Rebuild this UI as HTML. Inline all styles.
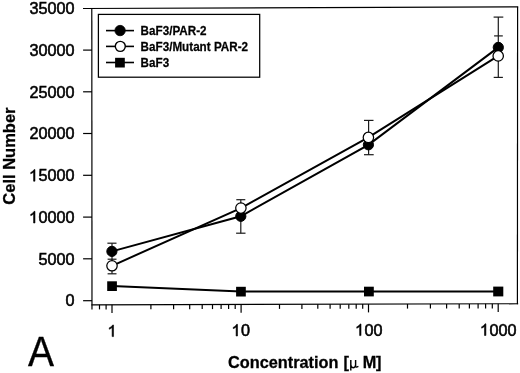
<!DOCTYPE html>
<html><head><meta charset="utf-8"><style>
html,body{margin:0;padding:0;background:#fff;width:520px;height:373px;overflow:hidden}
svg{display:block;filter:grayscale(1) blur(0.3px)}
text{font-family:"Liberation Sans",sans-serif;fill:#000}
</style></head><body>
<svg width="520" height="373" viewBox="0 0 520 373">
<g stroke="#000" stroke-width="1.2" fill="none">
<!-- frame -->
<line x1="83" y1="8.5" x2="518.2" y2="6.8"/>
<line x1="517.6" y1="6.8" x2="517.4" y2="304.2"/>
<line x1="91.8" y1="8.3" x2="92.0" y2="309.5"/>
<line x1="91.4" y1="304.8" x2="518.2" y2="303.75"/>
<!-- y ticks -->
<line x1="83.1" y1="50.1" x2="92" y2="50.1"/>
<line x1="83.1" y1="91.8" x2="92" y2="91.8"/>
<line x1="83.1" y1="133.5" x2="92" y2="133.5"/>
<line x1="83.1" y1="175.3" x2="92" y2="175.3"/>
<line x1="83.1" y1="217.1" x2="92" y2="217.1"/>
<line x1="83.1" y1="258.8" x2="92" y2="258.8"/>
<line x1="83.1" y1="300.7" x2="92" y2="300.7"/>
</g>
<g id="xt" stroke="#000" stroke-width="1.2"><line x1="99.5" y1="304.8" x2="99.5" y2="309.4"/><line x1="106.1" y1="304.8" x2="106.1" y2="309.4"/><line x1="112.0" y1="304.8" x2="112.0" y2="313.1"/><line x1="150.9" y1="304.7" x2="150.9" y2="309.3"/><line x1="173.6" y1="304.6" x2="173.6" y2="309.2"/><line x1="189.7" y1="304.6" x2="189.7" y2="309.2"/><line x1="202.2" y1="304.5" x2="202.2" y2="309.1"/><line x1="212.5" y1="304.5" x2="212.5" y2="309.1"/><line x1="221.1" y1="304.5" x2="221.1" y2="309.1"/><line x1="228.6" y1="304.5" x2="228.6" y2="309.1"/><line x1="235.2" y1="304.4" x2="235.2" y2="309.0"/><line x1="241.1" y1="304.4" x2="241.1" y2="312.7"/><line x1="279.5" y1="304.3" x2="279.5" y2="308.9"/><line x1="301.9" y1="304.3" x2="301.9" y2="308.9"/><line x1="317.8" y1="304.2" x2="317.8" y2="308.8"/><line x1="330.1" y1="304.2" x2="330.1" y2="308.8"/><line x1="340.2" y1="304.2" x2="340.2" y2="308.8"/><line x1="348.8" y1="304.2" x2="348.8" y2="308.8"/><line x1="356.2" y1="304.1" x2="356.2" y2="308.7"/><line x1="362.7" y1="304.1" x2="362.7" y2="308.7"/><line x1="368.5" y1="304.1" x2="368.5" y2="312.4"/><line x1="407.5" y1="304.0" x2="407.5" y2="308.6"/><line x1="430.4" y1="304.0" x2="430.4" y2="308.6"/><line x1="446.6" y1="303.9" x2="446.6" y2="308.5"/><line x1="459.2" y1="303.9" x2="459.2" y2="308.5"/><line x1="469.4" y1="303.9" x2="469.4" y2="308.5"/><line x1="478.1" y1="303.8" x2="478.1" y2="308.4"/><line x1="485.6" y1="303.8" x2="485.6" y2="308.4"/><line x1="492.3" y1="303.8" x2="492.3" y2="308.4"/><line x1="498.2" y1="303.8" x2="498.2" y2="312.1"/></g>
<!-- legend -->
<rect x="98.4" y="14.4" width="161.3" height="62.8" fill="none" stroke="#000" stroke-width="1.25"/>
<g stroke="#000" stroke-width="1.6">
<line x1="106" y1="30.6" x2="134" y2="30.6"/>
<line x1="106" y1="46.4" x2="134" y2="46.4"/>
<line x1="106" y1="62.5" x2="134" y2="62.5"/>
</g>
<circle cx="120.1" cy="30.55" r="5.2" fill="#000" stroke="#000" stroke-width="0.8"/>
<circle cx="120.3" cy="46.35" r="5.0" fill="#fff" stroke="#000" stroke-width="1.4"/>
<rect x="115.1" y="57.8" width="9.7" height="9.7" fill="#000"/>
<g font-weight="bold" font-size="12.3" stroke="#000" stroke-width="0.25">
<text transform="translate(140.6,35.1) scale(0.95,1)">BaF3/PAR-2</text>
<text transform="translate(140.6,50.9) scale(0.95,1)">BaF3/Mutant PAR-2</text>
<text transform="translate(140.6,66.9) scale(0.95,1)">BaF3</text>
</g>
<!-- y labels -->
<g font-size="16.2" stroke="#000" stroke-width="0.55">
<text x="29.45" y="13.9">35000</text>
<text x="29.45" y="55.8">30000</text>
<text x="29.45" y="97.6">25000</text>
<text x="29.45" y="139.4">20000</text>
<path transform="translate(28.95,181.20) scale(0.00791,-0.00791)" d="M763 0H583V1147Q518 1085 412.5 1023Q307 961 223 930V1104Q374 1175 487 1276Q600 1377 647 1472H763Z" stroke-width="70"/>
<text x="38.46" y="181.2">5000</text>
<path transform="translate(28.95,223.00) scale(0.00791,-0.00791)" d="M763 0H583V1147Q518 1085 412.5 1023Q307 961 223 930V1104Q374 1175 487 1276Q600 1377 647 1472H763Z" stroke-width="70"/>
<text x="38.46" y="223.0">0000</text>
<text x="38.46" y="264.6">5000</text>
<text x="65.49" y="306.4">0</text>
</g>
<!-- x labels -->
<g font-size="16.2" stroke="#000" stroke-width="0.55">
<path transform="translate(107.50,336.60) scale(0.00791,-0.00791)" d="M763 0H583V1147Q518 1085 412.5 1023Q307 961 223 930V1104Q374 1175 487 1276Q600 1377 647 1472H763Z" stroke-width="70"/>
<path transform="translate(231.49,336.00) scale(0.00791,-0.00791)" d="M763 0H583V1147Q518 1085 412.5 1023Q307 961 223 930V1104Q374 1175 487 1276Q600 1377 647 1472H763Z" stroke-width="70"/>
<text x="241.00" y="336.0">0</text>
<path transform="translate(354.99,335.60) scale(0.00791,-0.00791)" d="M763 0H583V1147Q518 1085 412.5 1023Q307 961 223 930V1104Q374 1175 487 1276Q600 1377 647 1472H763Z" stroke-width="70"/>
<text x="364.50" y="335.6">00</text>
<path transform="translate(479.88,335.50) scale(0.00791,-0.00791)" d="M763 0H583V1147Q518 1085 412.5 1023Q307 961 223 930V1104Q374 1175 487 1276Q600 1377 647 1472H763Z" stroke-width="70"/>
<text x="489.39" y="335.5">000</text>
</g>
<g font-size="16.3" font-weight="bold" stroke="#000" stroke-width="0.3">
<text x="228" y="367.8">Concentration</text>
<text x="343.4" y="367.8">[</text>
<path d="M350.8 360 V370.4 M350.8 364.6 Q350.9 367.7 353.1 367.7 Q355.3 367.7 355.6 365 M355.6 360 V366.4 Q355.8 367.2 356.6 367.1 L358.4 366.3" fill="none" stroke="#000" stroke-width="1.45"/>
<text x="362.7" y="367.8">M</text>
<text x="376.1" y="367.8">]</text>
</g>
<text transform="translate(14.7,204.7) rotate(-90)" font-size="16.5" font-weight="bold" stroke="#000" stroke-width="0.3">Cell Number</text>
<text transform="translate(28.1,365.9) scale(0.915,1)" font-size="42.6" stroke="#000" stroke-width="0.35">A</text>

<!-- data lines -->
<g stroke="#000" stroke-width="2" fill="none">
<polyline points="111.9,251.4 240.8,216.3 368.4,144.8 498.3,47.4"/>
<polyline points="112,265.8 240.9,208.1 368.4,137.4 498.2,55.9"/>
<polyline points="112,286.1 241,291.6 368.9,291.5 498.3,291.5"/>
</g>
<!-- error bars -->
<g stroke="#1a1a1a" stroke-width="1.2">
<line x1="112" y1="243.2" x2="112" y2="259.5"/>
<line x1="107.4" y1="243.2" x2="116.5" y2="243.2"/>
<line x1="107.6" y1="259.2" x2="116.5" y2="259.2"/>
<line x1="112" y1="259" x2="112" y2="273.8"/>
<line x1="107.6" y1="273.8" x2="116.5" y2="273.8"/>

<line x1="240.8" y1="199.7" x2="240.8" y2="233.2"/>
<line x1="236.3" y1="199.7" x2="245.3" y2="199.7"/>
<line x1="236.1" y1="233.2" x2="245.5" y2="233.2"/>

<line x1="368.6" y1="120.4" x2="368.6" y2="154.7"/>
<line x1="364" y1="120.4" x2="373.5" y2="120.4"/>
<line x1="364" y1="154.7" x2="373.7" y2="154.7"/>

<line x1="498.3" y1="17.1" x2="498.3" y2="77.4"/>
<line x1="493.6" y1="17.1" x2="503.3" y2="17.1"/>
<line x1="494.1" y1="35.9" x2="502.8" y2="35.9"/>
<line x1="493.7" y1="77.4" x2="502.9" y2="77.4"/>
</g>
<!-- markers: filled -->
<g fill="#000" stroke="#000" stroke-width="1">
<circle cx="111.9" cy="251.4" r="5.1"/>
<circle cx="240.8" cy="216.3" r="5.1"/>
<circle cx="368.4" cy="144.8" r="5.1"/>
<circle cx="498.3" cy="47.4" r="5.1"/>
</g>
<!-- markers: open -->
<g fill="#fff" stroke="#000" stroke-width="1.25">
<circle cx="112" cy="265.8" r="5.2"/>
<circle cx="240.9" cy="208.1" r="5.2"/>
<circle cx="368.4" cy="137.4" r="5.2"/>
<circle cx="498.2" cy="55.9" r="5.2"/>
</g>
<!-- markers: squares -->
<g fill="#000">
<rect x="107.2" y="281.3" width="9.7" height="9.7"/>
<rect x="236.1" y="286.8" width="9.7" height="9.7"/>
<rect x="364" y="286.7" width="9.8" height="9.7"/>
<rect x="493.2" y="286.6" width="10.1" height="9.8"/>
</g>
</svg>
</body></html>
